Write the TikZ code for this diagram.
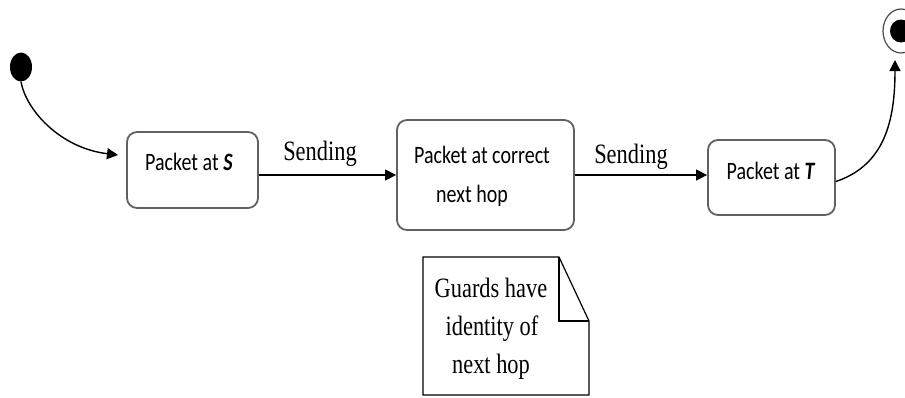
\documentclass[tikz,border=0pt]{standalone}
\usepackage{fontspec}
\usetikzlibrary{arrows.meta,shapes.geometric}
\newfontfamily\labelfont{Liberation Serif}[FakeStretch=0.8]
\newfontfamily\statefont{Carlito}[FakeStretch=0.8]

\begin{document}
\begin{tikzpicture}[x=1pt,y=-1pt,
  statebox/.style={draw=black!62, line width=1.8pt, rounded corners=10pt,
    inner sep=0pt, fill=white},
  statetext/.style={font=\statefont\fontsize{25}{30}\selectfont,
    anchor=base, inner sep=0pt},
  guardtext/.style={font=\labelfont\fontsize{28}{38}\selectfont,
    anchor=base, inner sep=0pt},
  flow/.style={line width=1.4pt, -{Triangle[length=11pt,width=11pt]}},
  notebox/.style={draw=black, line width=1.2pt, line join=miter},
]
\useasboundingbox (0,0) rectangle (905,397);

% initial and final pseudo-states
\node[ellipse, fill=black, minimum width=22pt, minimum height=29pt, inner sep=0pt] (init) at (21,67) {};
\node[ellipse, draw=black!70, line width=1.2pt, fill=white, minimum width=36pt, minimum height=44pt, inner sep=0pt] (final) at (901,31) {};
\node[ellipse, fill=black, minimum width=22pt, minimum height=23pt, inner sep=0pt] (finaldot) at (901,31) {};

% states
\node[statebox, minimum width=131pt, minimum height=76pt] (s1) at (192.5,170) {};
\node[statebox, minimum width=177pt, minimum height=110pt] (s2) at (485.5,175) {};
\node[statebox, minimum width=127pt, minimum height=75pt] (s3) at (771.5,177.5) {};

\node[statetext] (s1label) at (189,170) {Packet at \textbf{\textit{S}}};
\node[statetext] (s2label) at (482,163) {Packet at correct};
\node[statetext] (s2label2) at (472,202) {next hop};
\node[statetext] (s3label) at (771,179) {Packet at \textbf{\textit{T}}};

% transitions
\coordinate (s1in) at (118,155);
\coordinate (finin) at (895,60);
\draw[flow] (init.south) .. controls (26,110) and (60,148) .. (s1in);
\draw[flow] (s1.east |- s2.center) -- (s2.west);
\draw[flow] (s2.east) -- (s3.west |- s2.east);
\draw[flow] ([yshift=-4pt]s3.east) .. controls (885,165) and (895,120) .. (finin);

\node[guardtext] (send1) at (320,160) {Sending};
\node[guardtext] (send2) at (631,163) {Sending};

% note with folded corner
\draw[notebox] (423,257) -- (559,257) -- (589,321) -- (589,395) -- (423,395) -- cycle;
\draw[notebox] (559,257) -- (559,321) -- (589,321);
\node[guardtext] (note1) at (491,297) {Guards have};
\node[guardtext] (note2) at (492,335) {identity of};
\node[guardtext] (note3) at (491,373) {next hop};
\end{tikzpicture}
\end{document}
